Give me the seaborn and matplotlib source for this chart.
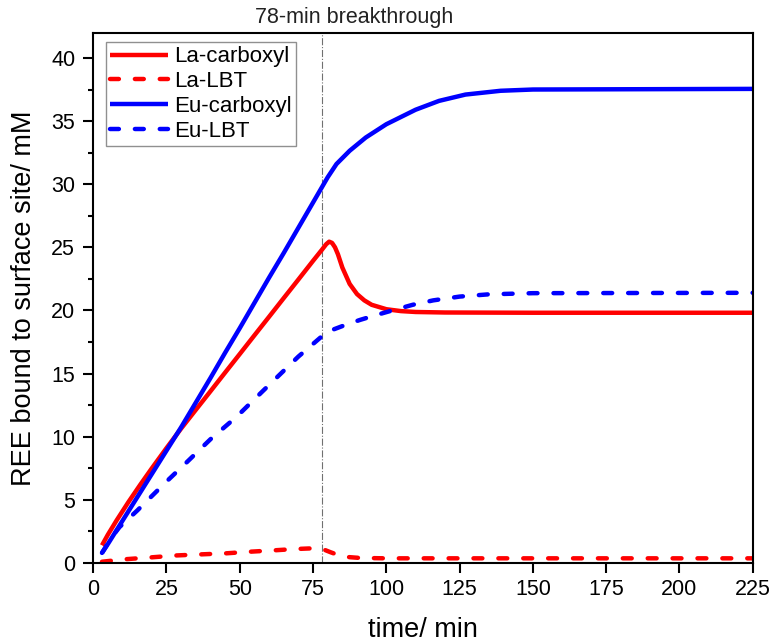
import numpy as np
import pandas as pd
import matplotlib
matplotlib.use("Agg")
import matplotlib.pyplot as plt
from matplotlib.ticker import MultipleLocator
import seaborn as sns

# ---- data ----
la_carb_t = [3, 5, 8, 12, 16, 20, 25, 30, 35, 40, 45, 50, 55, 60, 65, 70, 75, 78, 79.5, 80.5, 81.5,
             82.5, 83.5, 85, 87.5, 90, 92.5, 95, 100, 105, 110, 120, 150, 225]
la_carb_y = [1.4, 2.24, 3.38, 4.82, 6.18, 7.5, 9.1, 10.65, 12.13, 13.6, 15.08, 16.55, 18.03, 19.5,
             20.98, 22.45, 23.93, 24.8, 25.25, 25.45, 25.35, 25.0, 24.45, 23.4, 22.1, 21.3, 20.8,
             20.45, 20.1, 19.95, 19.88, 19.84, 19.82, 19.82]

la_lbt_t = [3, 7, 11, 20, 28.5, 36.5, 45.6, 52.4, 61.5, 68.3, 75.7, 78.5, 81, 84, 87, 91, 100, 225]
la_lbt_y = [0.1, 0.2, 0.3, 0.45, 0.6, 0.68, 0.77, 0.88, 1.0, 1.1, 1.17, 1.08, 0.85, 0.6, 0.47,
            0.4, 0.37, 0.37]

eu_carb_t = [3, 5, 10, 15, 20, 25, 30, 35, 40, 45, 50, 55, 60, 65, 70, 75, 78, 80, 83, 87.5,
             93, 100, 110, 118, 127, 139, 150, 225]
eu_carb_y = [0.8, 1.5, 3.35, 5.2, 7.05, 8.9, 10.75, 12.7, 14.65, 16.65, 18.6, 20.6, 22.6, 24.55,
             26.55, 28.55, 29.75, 30.55, 31.6, 32.65, 33.7, 34.75, 35.9, 36.6, 37.1, 37.4, 37.5, 37.55]

eu_lbt_t = [3, 5, 7, 9, 12, 15, 20, 25, 32, 40, 49, 55, 60, 66, 70, 75, 78, 82, 86, 91, 96, 102,
            109, 116, 125, 135, 150, 225]
eu_lbt_y = [0.8, 1.55, 2.25, 2.85, 3.5, 4.15, 5.3, 6.45, 8.0, 9.8, 11.6, 12.97, 14.1, 15.45, 16.35,
            17.35, 17.95, 18.5, 18.85, 19.25, 19.6, 20.0, 20.45, 20.8, 21.1, 21.28, 21.37, 21.4]

series_names = ["La-carboxyl", "La-LBT", "Eu-carboxyl", "Eu-LBT"]
breakthrough_t = 78
x_ticks = [0, 25, 50, 75, 100, 125, 150, 175, 200, 225]
y_ticks = [0, 5, 10, 15, 20, 25, 30, 35, 40]

# ---- style ----
sns.set_style("ticks")
plt.rcParams["font.family"] = ["Liberation Sans", "DejaVu Sans"]
plt.rcParams["text.color"] = "black"
plt.rcParams["axes.labelcolor"] = "black"
plt.rcParams["xtick.color"] = "black"
plt.rcParams["ytick.color"] = "black"

W, H = 772, 642
fig = plt.figure(figsize=(W / 100, H / 100), dpi=100)
left, right, top, bottom = 93.2, 752.7, 32.7, 563.0
ax = fig.add_axes([left / W, (H - bottom) / H, (right - left) / W, (bottom - top) / H])

dash = (0, (2.0, 3.6))
specs = [
    (la_carb_t, la_carb_y, "#FF0000", "-"),
    (la_lbt_t, la_lbt_y, "#FF0000", dash),
    (eu_carb_t, eu_carb_y, "#0000FF", "-"),
    (eu_lbt_t, eu_lbt_y, "#0000FF", dash),
]
for name, (t, y, c, ls) in zip(series_names, specs):
    df = pd.DataFrame({"time": t, "value": y})
    sns.lineplot(data=df, x="time", y="value", ax=ax, color=c, linestyle=ls,
                 linewidth=3.2, label=name, dash_capstyle="round",
                 solid_capstyle="butt", solid_joinstyle="round")

ax.axvline(breakthrough_t, color="#707070", linestyle="-.", linewidth=0.8, zorder=0)

ax.set_xlim(0, 225)
ax.set_ylim(0, 42)
ax.set_xticks(x_ticks)
ax.set_yticks(y_ticks)
ax.yaxis.set_minor_locator(MultipleLocator(2.5))

for s in ax.spines.values():
    s.set_visible(True)
    s.set_color("black")
    s.set_linewidth(1.5)

ax.tick_params(axis="both", which="major", length=7.5, width=1.5, labelsize=15.5,
               direction="out", color="black", labelcolor="black")
ax.tick_params(axis="x", which="major", pad=4)
ax.tick_params(axis="y", which="major", pad=5.5)
ax.tick_params(axis="y", which="minor", length=3.8, width=1.5, color="black")
ax.tick_params(top=False, right=False, which="both")

ax.set_xlabel("time/ min", fontsize=19.5, color="black")
ax.set_ylabel("REE bound to surface site/ mM", fontsize=19.5, color="black")
ax.xaxis.set_label_coords(0.5, -0.102)
ax.yaxis.set_label_coords(-0.085, 0.5)

leg = ax.legend(loc="upper left",
                bbox_to_anchor=((106 - left) / (right - left), 1 - (42 - top) / (bottom - top)),
                borderaxespad=0, fontsize=16, handlelength=2.6, handletextpad=0.27,
                labelspacing=0.17, borderpad=0.2, fancybox=False, framealpha=1,
                edgecolor="#909090")
leg.get_frame().set_linewidth(1.0)
for txt in leg.get_texts():
    txt.set_color("black")

fig.text(255 / W, 1 - 23.3 / H, "78-min breakthrough", fontsize=15.5, ha="left",
         va="baseline", color="#222222")

fig.savefig("out.png", dpi=100, facecolor="white")
